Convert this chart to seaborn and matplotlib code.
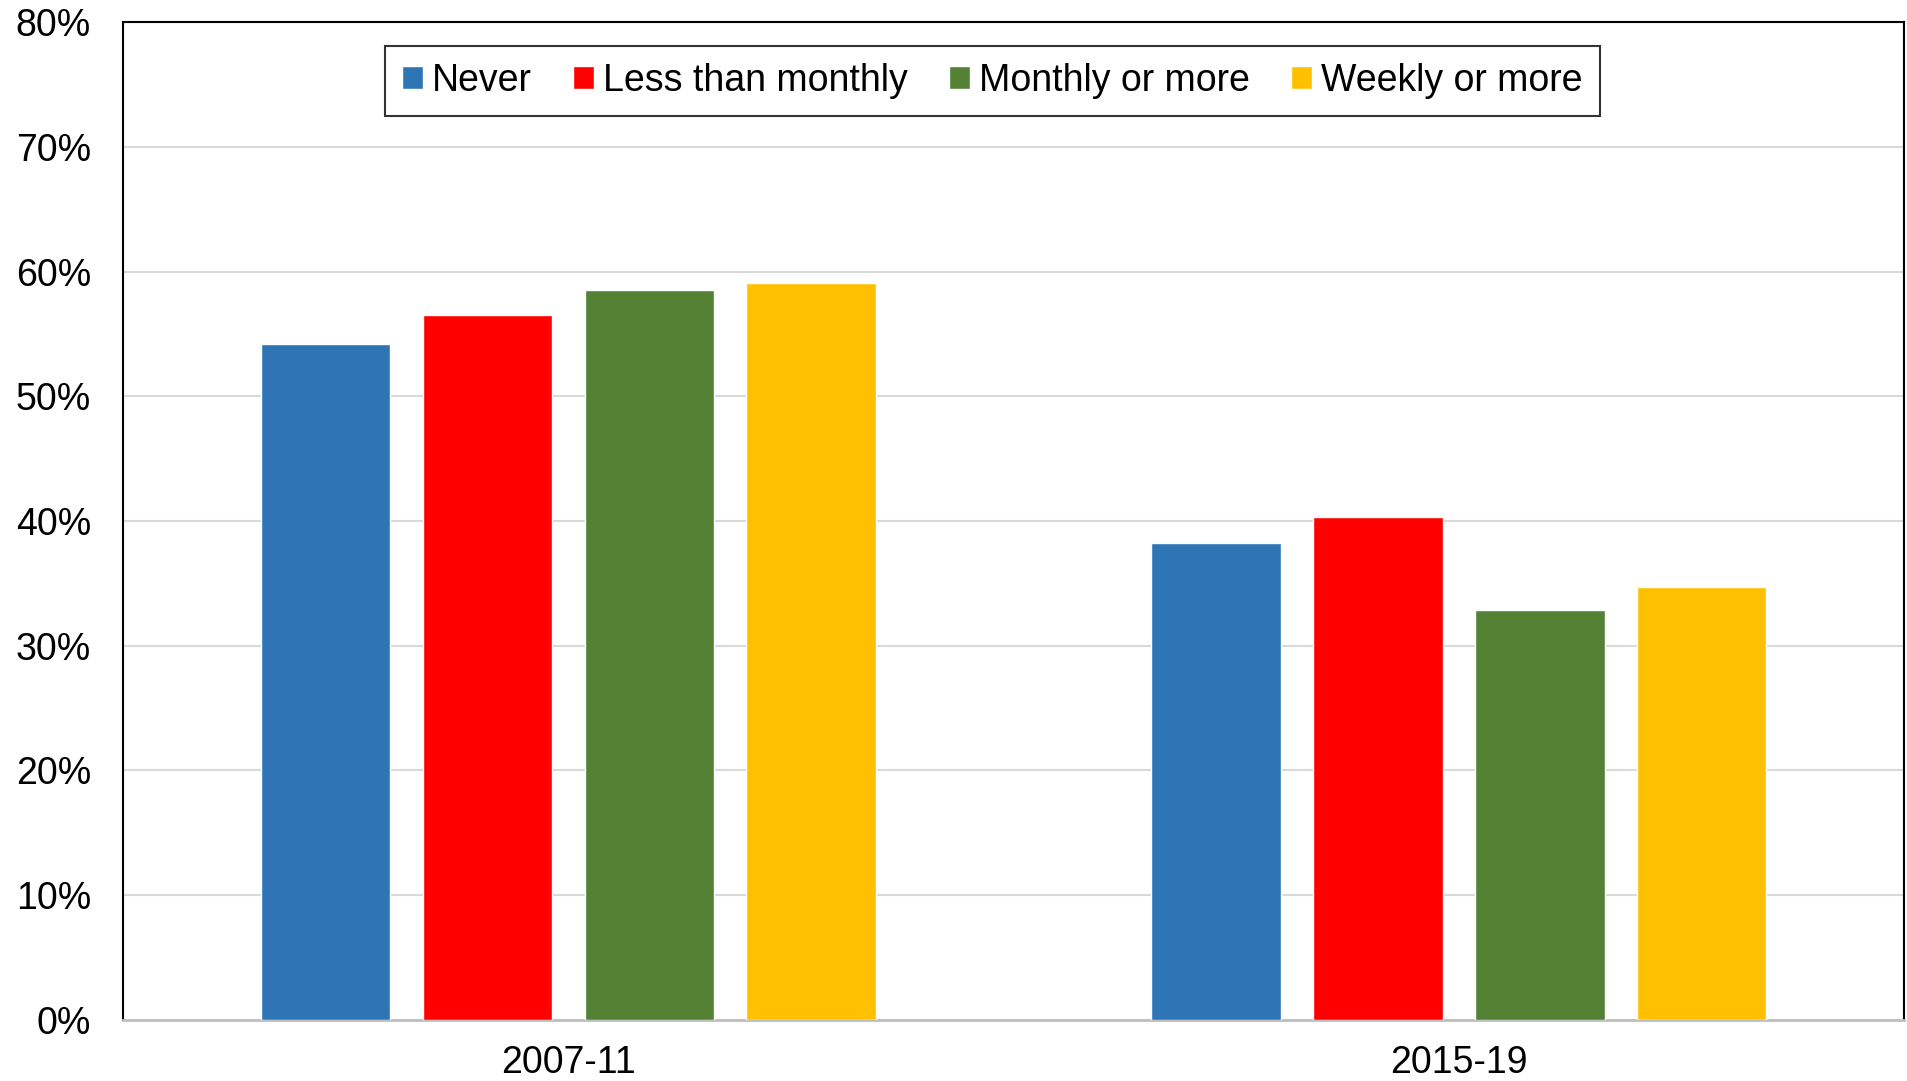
import seaborn as sns
import matplotlib.pyplot as plt
import pandas as pd
from matplotlib.ticker import PercentFormatter

# Данные
periods = ['2007-11', '2015-19']
groups = ['Never', 'Less than monthly', 'Monthly or more', 'Weekly or more']
values_2007 = [54.2, 56.5, 58.5, 59.1]
values_2015 = [38.2, 40.3, 32.9, 34.7]
colors = ['#2E75B6', '#FF0000', '#548235', '#FFC000']

df = pd.DataFrame({
    'period': [periods[0]] * 4 + [periods[1]] * 4,
    'group': groups + groups,
    'value': values_2007 + values_2015,
})

sns.set_style('white')
plt.rcParams['font.family'] = ['Liberation Sans', 'DejaVu Sans']
plt.rcParams['text.color'] = 'black'
plt.rcParams['xtick.color'] = 'black'
plt.rcParams['ytick.color'] = 'black'

fig = plt.figure(figsize=(19.08, 10.81), dpi=100)
ax = fig.add_axes([0.0645, 0.0565, 0.9335, 0.923])

sns.barplot(data=df, x='period', y='value', hue='group', hue_order=groups,
            palette=colors, width=0.727, gap=0.2, saturation=1, ax=ax, zorder=3)

# Оси и сетка
ax.set_ylim(0, 80)
ax.set_yticks(range(0, 81, 10))
ax.yaxis.set_major_formatter(PercentFormatter(decimals=0))
ax.grid(axis='y', color='#D9D9D9', linewidth=1.5, zorder=0)
ax.set_axisbelow(True)
ax.set_xlabel('')
ax.set_ylabel('')
ax.tick_params(axis='both', length=0, labelsize=27)
ax.tick_params(axis='y', pad=23)
ax.tick_params(axis='x', pad=18)

for side in ['left', 'top', 'right']:
    ax.spines[side].set_color('black')
    ax.spines[side].set_linewidth(1.5)
ax.spines['bottom'].set_color('#BFBFBF')
ax.spines['bottom'].set_linewidth(2)

# Легенда
leg = ax.legend(loc='upper center', bbox_to_anchor=(0.488, 0.976), ncol=4,
                fontsize=27, frameon=True, fancybox=False, edgecolor='black',
                handlelength=0.55, handleheight=0.55, handletextpad=0.25,
                columnspacing=1.1, borderpad=0.45, borderaxespad=0)
leg.get_frame().set_linewidth(1.5)

fig.savefig('out.png', dpi=100)
